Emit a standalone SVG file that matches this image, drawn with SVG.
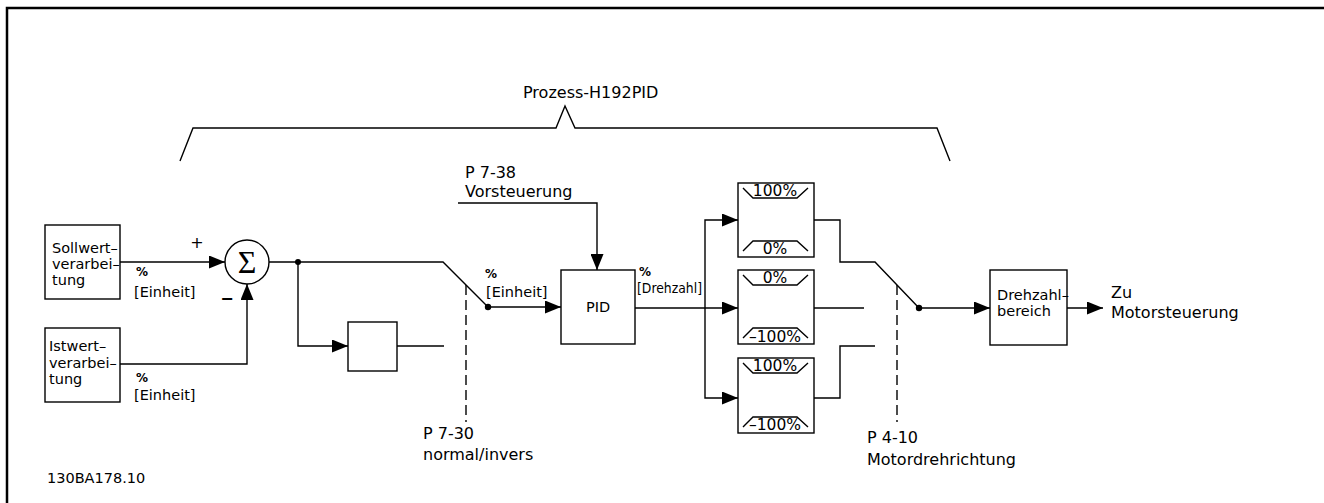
<svg xmlns="http://www.w3.org/2000/svg" width="1324" height="503" viewBox="0 0 1324 503">
<style>
.ln{fill:none;stroke:#000;stroke-width:1.4}
.box{fill:#fff;stroke:#000;stroke-width:1.4}
.dash{fill:none;stroke:#000;stroke-width:1.4;stroke-dasharray:10 5}
.lbl{font-family:"DejaVu Sans",Verdana,sans-serif;font-size:16px;fill:#000}
.cad{font-family:"DejaVu Sans",sans-serif;font-size:14.5px;fill:#000}
.pct{font-family:"DejaVu Sans",sans-serif;font-size:12px;font-weight:bold;fill:#000}
.sat{font-family:"DejaVu Sans",Verdana,sans-serif;font-size:15.5px;fill:#000;text-anchor:middle}
</style>
<defs>
<marker id="ah" markerUnits="userSpaceOnUse" markerWidth="16" markerHeight="13" refX="16" refY="6.5" orient="auto">
<path d="M0,0 L16,6.5 L0,13 z" fill="#000"/>
</marker>
</defs>
<rect width="1324" height="503" fill="#fff"/>
<path d="M7,503 V8 H1324" fill="none" stroke="#000" stroke-width="2.5"/>

<g id="bracket">
<path class="ln" d="M180,161 L193,128 H556 L565,106 L575,128 H937 L950,161"/>
<text class="lbl" x="523" y="98" font-size="17">Prozess-H192PID</text>
</g>

<g id="connectors">
<path class="ln" d="M120,262 H225" marker-end="url(#ah)"/>
<path class="ln" d="M120,364 H247 V284" marker-end="url(#ah)"/>
<path class="ln" d="M269,262 H443 L488,307"/>
<path class="ln" d="M298,262 V346 H348" marker-end="url(#ah)"/>
<path class="ln" d="M397,346 H444"/>
<path class="ln" d="M488,307 H561" marker-end="url(#ah)"/>
<path class="ln" d="M458,203 H597 V270" marker-end="url(#ah)"/>
<path class="ln" d="M635,308 H738" marker-end="url(#ah)"/>
<path class="ln" d="M705,308 V220 H738" marker-end="url(#ah)"/>
<path class="ln" d="M705,308 V398 H738" marker-end="url(#ah)"/>
<path class="ln" d="M814,220 H840 V262 H875 L919,308"/>
<path class="ln" d="M814,308 H864"/>
<path class="ln" d="M814,398 H840 V346 H875"/>
<path class="ln" d="M919,308 H990" marker-end="url(#ah)"/>
<path class="ln" d="M1067,308 H1103" marker-end="url(#ah)"/>
<path class="dash" d="M466,285 V422"/>
<path class="dash" d="M897,285 V422"/>
<circle cx="298" cy="262" r="3" fill="#000"/>
<circle cx="488" cy="307" r="3.2" fill="#000"/>
<circle cx="919" cy="308" r="3.2" fill="#000"/>
<text class="pct" x="136" y="276">%</text>
<text class="cad" x="134" y="297">[Einheit]</text>
<text class="pct" x="136" y="382">%</text>
<text class="cad" x="134" y="400">[Einheit]</text>
<text class="lbl" x="197" y="248" text-anchor="middle">+</text>
<text class="lbl" x="227" y="304" text-anchor="middle" font-weight="bold">−</text>
<text class="pct" x="485" y="278">%</text>
<text class="cad" x="486" y="297">[Einheit]</text>
<text class="pct" x="639" y="276">%</text>
<text class="cad" x="637" y="293" font-size="13" textLength="65" lengthAdjust="spacingAndGlyphs">[Drehzahl]</text>
</g>

<g id="sollwert">
<rect class="box" x="45" y="225" width="75" height="74"/>
<text class="cad" x="52" y="253">Sollwert–</text>
<text class="cad" x="52" y="269">verarbei–</text>
<text class="cad" x="52" y="285">tung</text>
</g>

<g id="istwert">
<rect class="box" x="45" y="328" width="75" height="74"/>
<text class="cad" x="49" y="351">Istwert–</text>
<text class="cad" x="49" y="368">verarbei–</text>
<text class="cad" x="49" y="384">tung</text>
</g>

<g id="summe">
<circle class="box" cx="247" cy="262" r="22"/>
<text x="247" y="273" text-anchor="middle" font-family="Liberation Serif,serif" font-size="32">Σ</text>
</g>

<g id="feedback">
<rect class="box" x="348" y="322" width="49" height="49"/>
</g>

<g id="p730">
<text class="lbl" x="423" y="439">P 7-30</text>
<text class="lbl" x="423" y="460">normal/invers</text>
</g>

<g id="p738">
<text class="lbl" x="465" y="178">P 7-38</text>
<text class="lbl" x="465" y="197">Vorsteuerung</text>
</g>

<g id="pid">
<rect class="box" x="561" y="270" width="74" height="74"/>
<text class="cad" x="598" y="312" text-anchor="middle">PID</text>
</g>

<g id="sat1">
<rect class="box" x="738" y="183" width="76" height="74"/>
<path class="ln" d="M743,188 L753,198 H797 L808,188"/>
<text class="sat" x="775" y="196">100%</text>
<path class="ln" d="M743,251 L753,241 H797 L808,251"/>
<text class="sat" x="775" y="254">0%</text>
</g>

<g id="sat2">
<rect class="box" x="738" y="270" width="76" height="74"/>
<path class="ln" d="M743,275 L753,285 H797 L808,275"/>
<text class="sat" x="775" y="283">0%</text>
<path class="ln" d="M743,338 L753,328 H797 L808,338"/>
<text class="sat" x="775" y="342">–100%</text>
</g>

<g id="sat3">
<rect class="box" x="738" y="358" width="76" height="75"/>
<path class="ln" d="M743,363 L753,373 H797 L808,363"/>
<text class="sat" x="775" y="371">100%</text>
<path class="ln" d="M743,427 L753,417 H797 L808,427"/>
<text class="sat" x="775" y="430">–100%</text>
</g>

<g id="p410">
<text class="lbl" x="867" y="443">P 4-10</text>
<text class="lbl" x="867" y="465">Motordrehrichtung</text>
</g>

<g id="drehzahlbereich">
<rect class="box" x="990" y="270" width="77" height="75"/>
<text class="cad" x="997" y="300">Drehzahl–</text>
<text class="cad" x="997" y="316">bereich</text>
</g>

<g id="motor">
<text class="lbl" x="1111" y="298">Zu</text>
<text class="lbl" x="1111" y="318">Motorsteuerung</text>
</g>

<g id="code">
<text class="cad" x="47" y="483" font-size="13.5">130BA178.10</text>
</g>
</svg>
